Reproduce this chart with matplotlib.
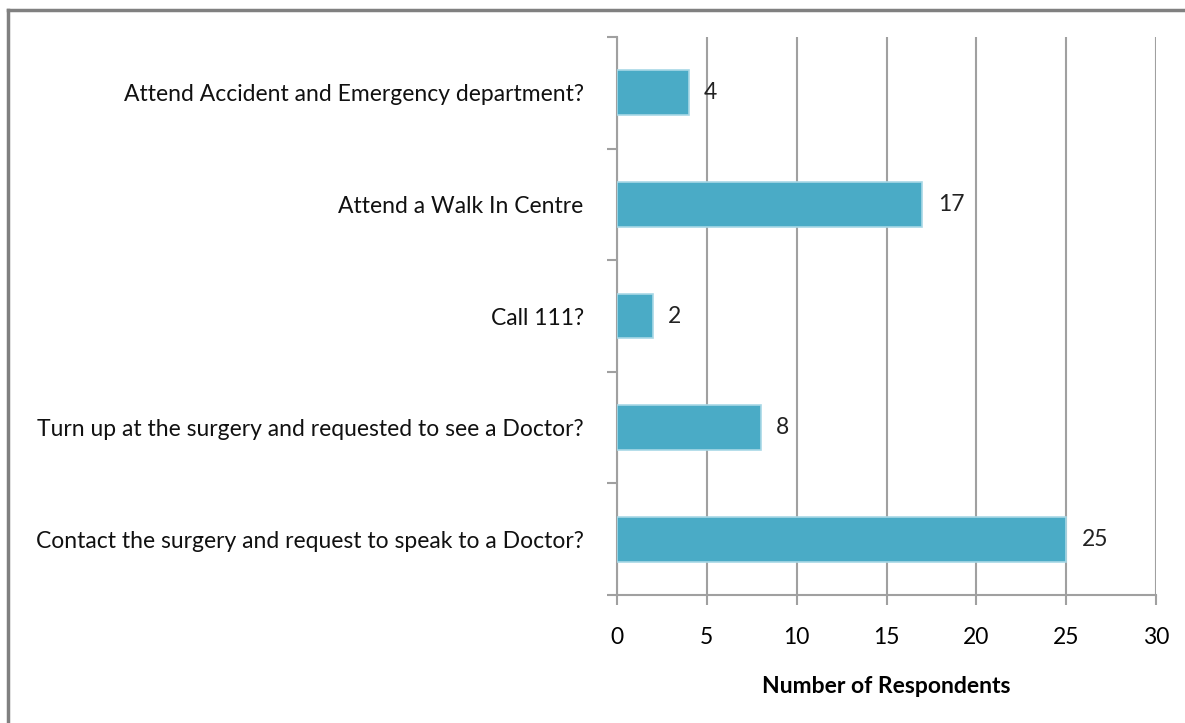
import numpy as np
from matplotlib import pyplot as plt

plt.rcParams['font.family'] = ['Lato', 'DejaVu Sans']

categories = [
    'Contact the surgery and request to speak to a Doctor?',
    'Turn up at the surgery and requested to see a Doctor?',
    'Call 111?',
    'Attend a Walk In Centre',
    'Attend Accident and Emergency department?',
]
respondents = [25, 8, 2, 17, 4]
x_ticks = [0, 5, 10, 15, 20, 25, 30]

fs = 16.5

fig = plt.figure(figsize=(11.85, 7.23), dpi=100)
ax = fig.add_axes([0.5207, 0.177, 0.4549, 0.7718])

y = np.arange(len(categories))
ax.barh(y, respondents, height=0.4, color='#4aabc6', edgecolor='#a8d8e6',
        linewidth=1.2, zorder=3)

for yi, v in zip(y, respondents):
    ax.annotate(str(v), (v, yi), xytext=(11, 0), textcoords='offset points',
                va='center', ha='left', fontsize=fs, color='#222222')

ax.set_xlim(0, 30)
ax.set_ylim(-0.5, len(categories) - 0.5)
ax.set_xticks(x_ticks)
ax.set_xticklabels([str(t) for t in x_ticks], fontsize=fs)
ax.tick_params(axis='x', length=7, width=1.5, color='#a0a0a0', pad=16)

# category labels on major ticks, tick marks on the boundaries
ax.set_yticks(y)
ax.set_yticklabels(categories, fontsize=fs, color='#111111')
ax.tick_params(axis='y', which='major', length=0, pad=24)
ax.set_yticks(np.arange(-0.5, len(categories), 1), minor=True)
ax.tick_params(axis='y', which='minor', length=7, width=1.5, color='#a0a0a0')

ax.grid(axis='x', color='#a0a0a0', linewidth=1.5, zorder=0)
ax.set_axisbelow(True)
for s in ['top', 'right']:
    ax.spines[s].set_visible(False)
for s in ['left', 'bottom']:
    ax.spines[s].set_color('#a0a0a0')
    ax.spines[s].set_linewidth(1.5)

ax.set_xlabel('Number of Respondents', fontsize=fs, fontweight='bold', labelpad=20)

# outer chart frame (top and left edges)
fig.add_artist(plt.Line2D([0.0068, 0.0068], [0, 0.986], color='#808080', linewidth=2.5))
fig.add_artist(plt.Line2D([0.0068, 1.0], [0.986, 0.986], color='#808080', linewidth=2.5))

plt.savefig('out.png', dpi=100, facecolor='white')
